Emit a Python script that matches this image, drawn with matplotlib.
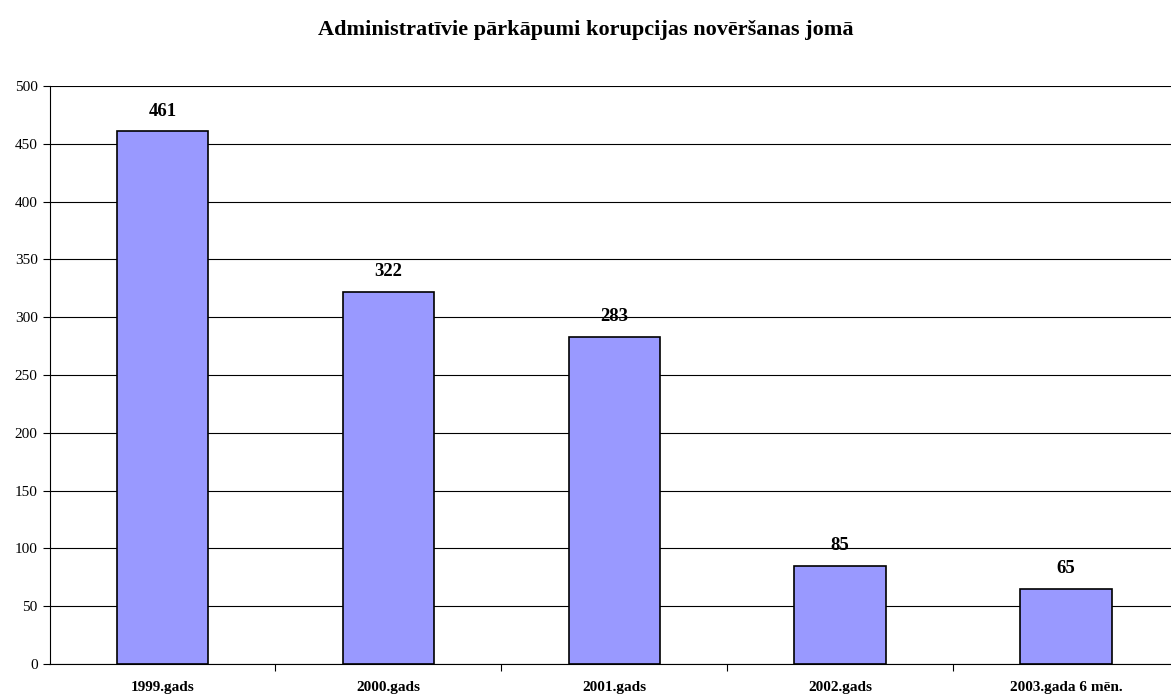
import matplotlib.pyplot as plt
import numpy as np

# Dati
categorie = ['1999.gads', '2000.gads', '2001.gads', '2002.gads', '2003.gada 6 mēn.']
valori = [461, 322, 283, 85, 65]

plt.rcParams['font.family'] = ['Liberation Serif', 'DejaVu Serif']

fig = plt.figure(figsize=(11.71, 7), dpi=100)
ax = fig.add_axes([49.5 / 1171, 36 / 700, (1179 - 49.5) / 1171, (664 - 86) / 700])

x = np.arange(len(categorie))
ax.bar(x, valori, width=0.405, color='#9999FF', edgecolor='black', linewidth=1.2, zorder=3)

for xi, v in zip(x, valori):
    ax.text(xi, v + 10, str(v), ha='center', va='bottom', fontsize=13.5, fontweight='bold')

ax.set_xlim(-0.5, len(categorie) - 0.5)
ax.set_ylim(0, 500)
ax.set_yticks(np.arange(0, 501, 50))
ax.tick_params(axis='y', labelsize=11, length=5, direction='out')
ax.yaxis.grid(True, color='black', linewidth=0.8, zorder=0)

# tacche tra le categorie, etichette al centro
ax.set_xticks(np.arange(0.5, len(categorie) - 0.5, 1))
ax.set_xticklabels([])
ax.tick_params(axis='x', which='major', length=5, direction='out')
ax.set_xticks(x, minor=True)
ax.set_xticklabels(categorie, minor=True, fontsize=11, fontweight='bold')
ax.tick_params(axis='x', which='minor', length=0, pad=12)

for s in ['top', 'right']:
    ax.spines[s].set_visible(False)

fig.text(0.5, 1 - 30 / 700, 'Administratīvie pārkāpumi korupcijas novēršanas jomā',
         ha='center', va='center', fontsize=16, fontweight='bold')

plt.savefig('out.png', dpi=100)
